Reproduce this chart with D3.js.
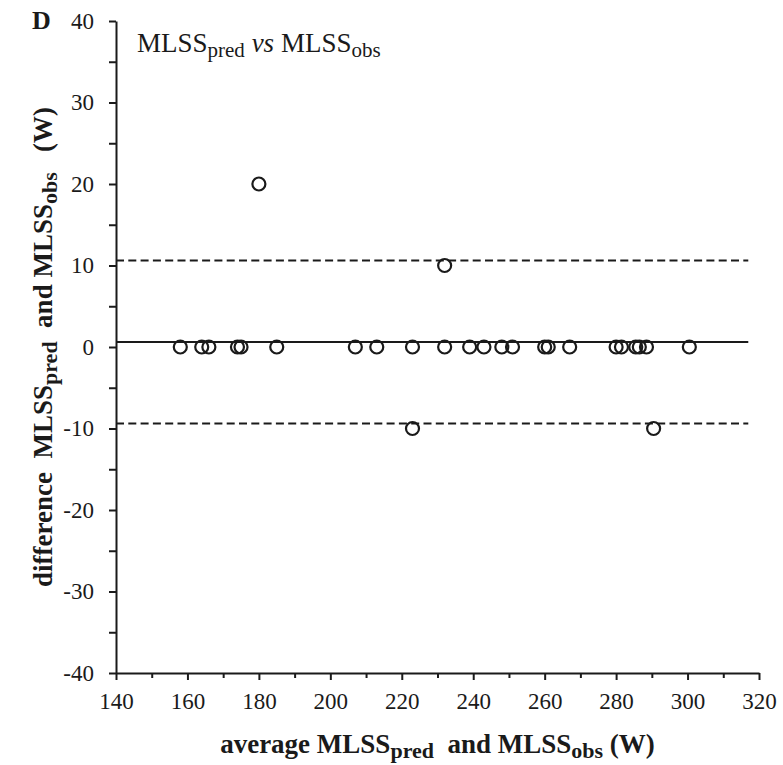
<!DOCTYPE html>
<html>
<head>
<meta charset="utf-8">
<script src="https://cdn.jsdelivr.net/npm/d3@7"></script>
<style>
  body { margin: 0; background: #fff; }
  svg, svg text { font-family: "Liberation Serif", "Times New Roman", serif; }
</style>
</head>
<body>
<script>
// average of MLSS_pred and MLSS_obs (W)
const averages = [158, 164, 166, 174, 175, 185, 207, 213, 223, 232, 239, 243, 248, 251,
  260, 261, 267, 280, 281.5, 285.5, 286.5, 288.5, 300.5, 180, 232, 223, 290.5];
// difference MLSS_pred - MLSS_obs (W)
const differences = [0, 0, 0, 0, 0, 0, 0, 0, 0, 0, 0, 0, 0, 0,
  0, 0, 0, 0, 0, 0, 0, 0, 0, 20, 10, -10, -10];
const meanDiff = 0.6;
const limits = [10.6, -9.4];
const xTicks = [140, 160, 180, 200, 220, 240, 260, 280, 300, 320];
const yTicks = [-40, -30, -20, -10, 0, 10, 20, 30, 40];

const width = 783, height = 765;
const margin = { left: 116, right: 24, top: 21, bottom: 92 };

const svg = d3.select("body").append("svg")
  .attr("width", width)
  .attr("height", height);

const x = d3.scaleLinear().domain([140, 320]).range([margin.left, width - margin.right]);
const y = d3.scaleLinear().domain([-40, 40]).range([height - margin.bottom, margin.top]);

const ink = "#1a1a1a";

// x axis: major ticks every 20, minor every 10
svg.append("g")
  .attr("transform", `translate(0,${y(-40)})`)
  .call(d3.axisBottom(x).tickValues(d3.range(150, 320, 20)).tickSize(5).tickFormat(""))
  .call(g => g.select(".domain").remove());
svg.append("g")
  .attr("transform", `translate(0,${y(-40)})`)
  .call(d3.axisBottom(x).tickValues(xTicks).tickSize(7).tickSizeOuter(0).tickFormat(d => String(d)))
  .call(g => g.attr("font-family", null))
  .call(g => g.selectAll("text")
    .attr("y", 36).attr("dy", 0)
    .style("font-size", "23px").attr("fill", ink));

// y axis: major every 10, minor every 5
svg.append("g")
  .attr("transform", `translate(${x(140)},0)`)
  .call(d3.axisLeft(y).tickValues(d3.range(-35, 40, 10)).tickSize(7).tickFormat(""))
  .call(g => g.select(".domain").remove());
svg.append("g")
  .attr("transform", `translate(${x(140)},0)`)
  .call(d3.axisLeft(y).tickValues(yTicks).tickSize(7).tickSizeOuter(0).tickPadding(15).tickFormat(d => String(d)))
  .call(g => g.attr("font-family", null))
  .call(g => g.selectAll("text")
    .style("font-size", "23px").attr("fill", ink));

svg.selectAll(".domain, .tick line").attr("stroke", ink).attr("stroke-width", 2);

// mean and limits of agreement
const xEnd = 317;
svg.append("line")
  .attr("x1", x(140)).attr("x2", x(xEnd))
  .attr("y1", y(meanDiff)).attr("y2", y(meanDiff))
  .attr("stroke", ink).attr("stroke-width", 2);
svg.selectAll(".loa")
  .data(limits)
  .join("line")
  .attr("class", "loa")
  .attr("x1", x(140)).attr("x2", x(xEnd))
  .attr("y1", d => y(d)).attr("y2", d => y(d))
  .attr("stroke", ink).attr("stroke-width", 2)
  .attr("stroke-dasharray", "8,4.3");

// points
svg.selectAll(".pt")
  .data(averages)
  .join("circle")
  .attr("class", "pt")
  .attr("cx", d => x(d))
  .attr("cy", (d, i) => y(differences[i]))
  .attr("r", 6.5)
  .attr("fill", "none")
  .attr("stroke", ink)
  .attr("stroke-width", 2.2);

// panel letter
svg.append("text")
  .attr("x", 32).attr("y", 29)
  .attr("font-size", 26).attr("font-weight", "bold")
  .attr("fill", ink)
  .text("D");

// inset title
const title = svg.append("text")
  .attr("x", 137).attr("y", 52)
  .attr("font-size", 27)
  .attr("fill", ink);
title.append("tspan").text("MLSS");
title.append("tspan").attr("font-size", 21).attr("dy", 5).text("pred");
title.append("tspan").attr("dy", -5).attr("font-style", "italic").text(" vs");
title.append("tspan").text(" MLSS");
title.append("tspan").attr("font-size", 21).attr("dy", 5).text("obs");

// x axis title
const xt = svg.append("text")
  .attr("x", (x(140) + x(320)) / 2).attr("y", 753)
  .attr("text-anchor", "middle")
  .attr("font-size", 27).attr("font-weight", "bold")
  .attr("fill", ink)
  .style("white-space", "pre");
xt.append("tspan").text("average MLSS");
xt.append("tspan").attr("font-size", 22).attr("dy", 5).text("pred");
xt.append("tspan").attr("dy", -5).text("  and MLSS");
xt.append("tspan").attr("font-size", 22).attr("dy", 5).text("obs");
xt.append("tspan").attr("dy", -5).text(" (W)");

// y axis title
const yt = svg.append("text")
  .attr("transform", `translate(52,${y(0)}) rotate(-90)`)
  .attr("text-anchor", "middle")
  .attr("font-size", 27).attr("font-weight", "bold")
  .attr("fill", ink)
  .style("white-space", "pre");
yt.append("tspan").text("difference  MLSS");
yt.append("tspan").attr("font-size", 22).attr("dy", 5).text("pred");
yt.append("tspan").attr("dy", -5).text("  and MLSS");
yt.append("tspan").attr("font-size", 22).attr("dy", 5).text("obs");
yt.append("tspan").attr("dy", -5).text("   (W)");
</script>
</body>
</html>
